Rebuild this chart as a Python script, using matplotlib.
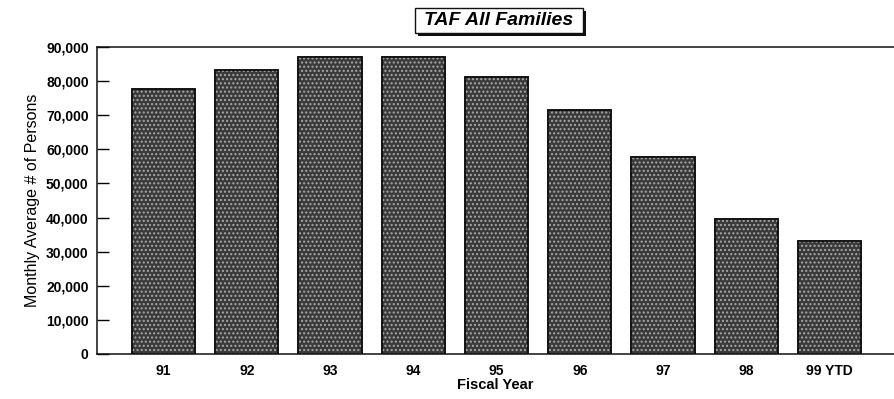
import matplotlib.pyplot as plt
from matplotlib.patches import Rectangle

plt.rcParams['font.family'] = ['Liberation Sans', 'DejaVu Sans']

# Monthly average persons by fiscal year
years = ['91', '92', '93', '94', '95', '96', '97', '98', '99 YTD']
persons = [77800, 83200, 87000, 87000, 81300, 71600, 57700, 39600, 33200]
yticks = [0, 10000, 20000, 30000, 40000, 50000, 60000, 70000, 80000, 90000]

fig = plt.figure(figsize=(8.94, 3.99), dpi=100)
ax = fig.add_axes([0.1085, 0.113, 0.891, 0.769])

pos = range(len(years))
ax.bar(pos, persons, width=0.76, color='#3a3a3a', edgecolor='#111111', linewidth=1.2, zorder=2)
# speckled fill on top of the dark bars
ax.bar(pos, persons, width=0.76, fill=False, hatch='....', edgecolor='#a8a8a8', linewidth=0, zorder=3)
ax.bar(pos, persons, width=0.76, fill=False, edgecolor='#111111', linewidth=1.2, zorder=4)

ax.set_xlim(-0.8, 8.77)
ax.set_ylim(0, 90000)
ax.set_yticks(yticks)
ax.set_yticklabels(['{:,}'.format(v) for v in yticks], fontsize=10, fontweight='bold')
ax.set_xticks(list(pos))
ax.set_xticklabels(years, fontsize=10, fontweight='bold')
ax.tick_params(axis='y', direction='in', length=8.5, width=1, pad=6)
ax.tick_params(axis='x', length=0, pad=7)

ax.spines['right'].set_visible(False)
for s in ['left', 'top', 'bottom']:
    ax.spines[s].set_linewidth(1.1)
    ax.spines[s].set_color('#111111')

ax.set_xlabel('Fiscal Year', fontsize=10.5, fontweight='bold', labelpad=0)
ax.set_ylabel('Monthly Average # of Persons', fontsize=11.5, labelpad=4)

# boxed title with a drop shadow
W, H = 894, 399
bx0, bx1, by0, by1 = 415, 583, 8, 33
shadow = Rectangle(((bx0 + 3) / W, 1 - (by1 + 3) / H), (bx1 - bx0) / W, (by1 - by0) / H,
                   transform=fig.transFigure, facecolor='#111111', edgecolor='none')
box = Rectangle((bx0 / W, 1 - by1 / H), (bx1 - bx0) / W, (by1 - by0) / H,
                transform=fig.transFigure, facecolor='white', edgecolor='#111111', linewidth=1.0)
fig.patches.extend([shadow, box])
fig.text((bx0 + bx1) / 2 / W, 1 - (by0 + by1) / 2 / H, 'TAF All Families', fontsize=14,
         fontweight='bold', fontstyle='italic', ha='center', va='center')

fig.savefig('out.png', dpi=100)
